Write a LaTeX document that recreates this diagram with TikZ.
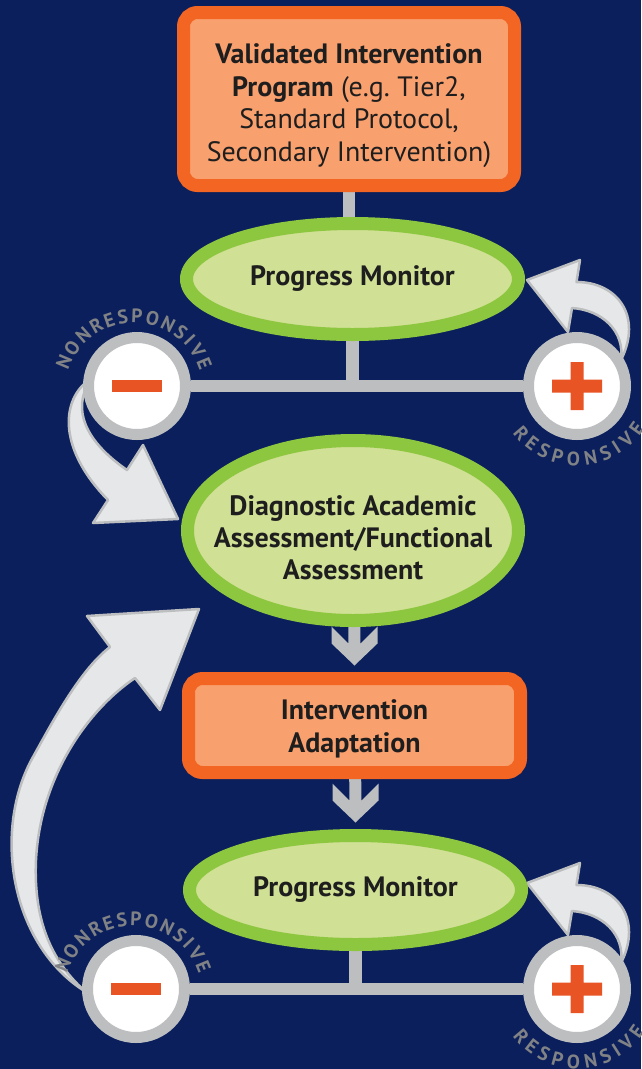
\documentclass[tikz,border=0pt]{standalone}
\usepackage{fontspec}
\setmainfont{PT Sans}
\usetikzlibrary{shapes.geometric,calc}
\definecolor{navy}{RGB}{10,31,92}
\definecolor{boxorange}{RGB}{242,101,34}
\definecolor{boxfill}{RGB}{249,160,111}
\definecolor{ellgreen}{RGB}{141,198,63}
\definecolor{ellfill}{RGB}{208,224,148}
\definecolor{linegray}{RGB}{188,190,192}
\definecolor{arrowfill}{RGB}{230,231,232}
\definecolor{signred}{RGB}{232,84,36}
\definecolor{labelgray}{RGB}{128,130,133}
\definecolor{textdark}{RGB}{30,30,30}
\pgfdeclarelayer{behind}
\pgfsetlayers{behind,main}
\begin{document}
\begin{tikzpicture}
[x=1pt,y=1pt,
  boxdecorate/.style={shape=rectangle,rounded corners=14pt,draw=boxorange,fill=boxfill,
    line width=13pt,inner sep=0pt,align=center,text=textdark,font=\fontsize{28}{32.5}\selectfont},%
  elldecorate/.style={shape=ellipse,draw=ellgreen,fill=ellfill,line width=13pt,
    inner xsep=-40pt,inner ysep=0pt,align=center,text=textdark,font=\fontsize{28}{32}\selectfont\bfseries},%
  signdecorate/.style={shape=circle,draw=linegray,fill=white,line width=11pt,minimum size=97pt,inner sep=0pt},%
  minussign/.style={signdecorate,path picture={\fill[signred]
    ($(path picture bounding box.center)+(-25,-6)$) rectangle ++(50,12);}},%
  plussign/.style={signdecorate,path picture={\fill[signred]
    ($(path picture bounding box.center)+(-25,-6.5)$) rectangle ++(50,13)
    ($(path picture bounding box.center)+(-6.5,-24)$) rectangle ++(13,48);}},%
  labeldecorate/.style={inner sep=0pt,text=labelgray,font=\fontsize{19.5}{19.5}\selectfont\bfseries},%
  linedecorate/.style={draw=linegray,line width=12.5pt},%
  arrowdecorate/.style={fill=arrowfill,draw=linegray,line width=2.5pt,line join=round}]
\useasboundingbox (0,0) rectangle (641,-1069);
%% boxes and ellipses
\node (valid) at (349,-99) [boxdecorate,minimum width=331pt,minimum height=173pt]
  {\rule{0pt}{33pt}\textbf{Validated Intervention}\\\textbf{Program} (e.g.\ Tier2,\\Standard Protocol,\\Secondary Intervention)};
\node (pm1) at (352.5,-279) [elldecorate,minimum width=332pt,minimum height=111pt] {Progress Monitor};
\node (diag) at (353,-530.5) [elldecorate,minimum width=331pt,minimum height=180pt]
  {\rule{0pt}{34pt}Diagnostic Academic\\Assessment/Functional\\Assessment};
\node (adapt) at (354.5,-725.5) [boxdecorate,minimum width=332pt,minimum height=94pt,
  font=\fontsize{28}{33}\selectfont\bfseries] {\rule{0pt}{26pt}Intervention\\Adaptation};
\node (pm2) at (355.5,-890) [elldecorate,minimum width=332pt,minimum height=109pt] {Progress Monitor};
%% minus and plus
\node (minus1) at (137,-386) [minussign] {};
\node (plus1) at (577,-386) [plussign] {};
\node (minus2) at (136,-989) [minussign] {};
\node (plus2) at (577,-989) [plussign] {};
\begin{pgfonlayer}{behind}
\fill[navy] (0,0) rectangle (641,-1069);
%% lines
\draw[linedecorate] (valid) -- (valid |- pm1);
\draw[linedecorate] (pm1) -- (pm1 |- minus1);
\draw[linedecorate] (minus1) -- (plus1);
\draw[linedecorate] (pm2) -- (pm2 |- minus2);
\draw[linedecorate] (minus2) -- (plus2);
%% down arrows
\foreach \from/\to in {diag/adapt, adapt/pm2} {
  \fill[linegray] ($(\to.north)+(0,6.5)$) -- ++(23,22) -- ++(0,17) -- ++(-17,-17)
    -- ($(\from.center)+(6,0)$) -- ($(\from.center)+(-6,0)$)
    -- ($(\to.north)+(-6,28.5)$) -- ++(-17,17) -- ++(0,-17) -- cycle;
}
%% curved arrows
\foreach \sign in {plus1, plus2} {
  \filldraw[arrowdecorate,shift={(\sign)}] (-0.5,104) .. controls (40,104) and (66,70) .. (44,26)
    .. controls (48,55) and (25,76) .. (-5,78) -- (-9,54) -- (-50,106) -- (3,126) -- cycle;
}
\filldraw[arrowdecorate,shift={(minus1)}] (-45,8) .. controls (-75,-10) and (-82,-60) .. (-29,-114)
  -- (-44,-137) -- (41,-133) -- (6,-59) -- (-10,-84) .. controls (-45,-60) and (-65,-30) .. (-50,0) -- cycle;
\filldraw[arrowdecorate,shift={(minus2)}] (-50,-3) .. controls (-126,44) and (-144,159) .. (-103,232)
  .. controls (-83,268) and (-56,319) .. (-26,342) -- (-49,373) -- (63,380) -- (24,279) -- (-1,311)
  .. controls (-51,277) and (-96,209) .. (-100,129) .. controls (-103,64) and (-81,24) .. (-50,-3) -- cycle;
\end{pgfonlayer}
%% labels, one letter at a time round the signs
\foreach \sign in {minus1, minus2} {
  \foreach \ch/\a [count=\i] in {N/157, O/144.4, N/131.7, R/119.8, E/109, S/98.6, P/87.8,
      O/75.9, N/63.3, S/51.8, I/42.9, V/33.3, E/22.3} {
    \node (\sign-n\i) at ($(\sign)+(-3,-6)+(\a:76)$) [labeldecorate,rotate=\a-90] {\ch};
  }
}
\foreach \sign in {plus1, plus2} {
  \foreach \ch/\a [count=\i] in {R/220.5, E/232.1, S/243.2, P/254.6, O/267.3, N/280.7,
      S/292.9, I/302.5, V/312.7, E/324.5} {
    \node (\sign-r\i) at ($(\sign)+(\a:73)$) [labeldecorate,rotate=\a+90] {\ch};
  }
}
\end{tikzpicture}
\end{document}
